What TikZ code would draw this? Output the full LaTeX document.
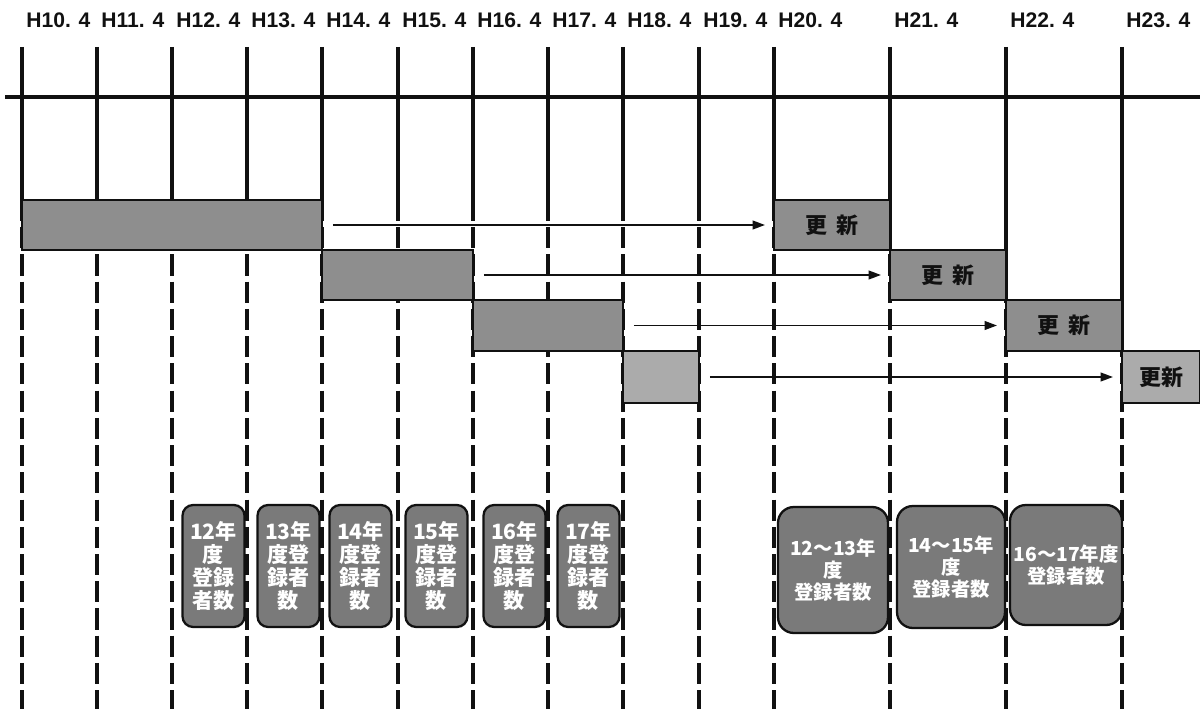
\documentclass[tikz,border=0pt]{standalone}
\usepackage{fontspec}
\setmainfont{Liberation Sans}
\newfontfamily\jpfont{Noto Sans CJK JP}
\usetikzlibrary{arrows.meta}
\definecolor{tinta}{HTML}{111111}
\definecolor{trama}{HTML}{8E8E8E}
\definecolor{tramaclara}{HTML}{ABABAB}
\definecolor{tramaoscura}{HTML}{7A7A7A}
\tikzset{
  fecha/.style={anchor=west, inner sep=0pt, font=\fontsize{12}{14}\selectfont\bfseries, text=tinta},
  barra/.style={rectangle, draw=tinta, line width=1.3pt, fill=trama, inner sep=0pt},
  koshin/.style={barra, font=\jpfont\bfseries\fontsize{12.5}{14}\selectfont, text=tinta},
  toroku/.style={rectangle, rounded corners=6pt, draw=tinta, line width=1.3pt, fill=tramaoscura,
                 text=white, align=center, inner sep=1pt, font=\jpfont\bfseries\fontsize{12}{13}\selectfont},
  eje/.style={line width=2.2pt, color=tinta},
  guia/.style={line width=2pt, color=tinta, dash pattern=on 12pt off 3.5pt},
  flecha/.style={line width=0.9pt, color=tinta, -{Triangle[length=7pt,width=5pt]},
                 shorten <=5.5pt, shorten >=4.5pt}
}

\begin{document}
\begin{tikzpicture}[x=0.02cm, y=-0.02cm]
  \useasboundingbox (0,0) rectangle (1200,709);
  % fechas y lineas del calendario
  \foreach \x/\a [count=\i] in {22/10, 97/11, 172/12, 247/13, 322/14, 398/15, 473/16,
                                548/17, 623/18, 699/19, 774/20, 890/21, 1006/22, 1122/23} {
    \node (h\i) [fecha] at (\x+4,20) {H\a. 4};
    \draw [eje] (\x,47) -- (\x,200);
    \draw [guia] (\x,200) -- (\x,709);
  }
  \draw [eje] (890,200) -- (890,250);
  \draw [eje] (1006,200) -- (1006,300);
  \draw [eje] (1122,200) -- (1122,351);
  \draw [eje, line width=2.6pt] (5,97) -- (1200,97);

  % periodos de registro
  \node (b1) [barra, minimum width=6cm, minimum height=1cm] at (172,225) {};
  \node (b2) [barra, minimum width=3.02cm, minimum height=1cm] at (397.5,275) {};
  \node (b3) [barra, minimum width=3cm, minimum height=1.02cm] at (548,325.5) {};
  \node (b4) [barra, fill=tramaclara, minimum width=1.52cm, minimum height=1.04cm] at (661,377) {};

  % renovaciones
  \node (u1) [koshin, minimum width=2.32cm, minimum height=1cm] at (832,225) {更\hspace{0.45em}新};
  \node (u2) [koshin, minimum width=2.32cm, minimum height=1cm] at (948,275) {更\hspace{0.45em}新};
  \node (u3) [koshin, minimum width=2.32cm, minimum height=1.02cm] at (1064,325.5) {更\hspace{0.45em}新};
  \node (u4) [koshin, fill=tramaclara, minimum width=1.56cm, minimum height=1.04cm] at (1161,377) {更新};

  \draw [flecha] (b1.east) -- (u1.west);
  \draw [flecha] (b2.east) -- (u2.west);
  \draw [flecha] (b3.east) -- (u3.west);
  \draw [flecha] (b4.east) -- (u4.west);

  % registrados por año
  \node (t12) [toroku, minimum width=1.24cm, minimum height=2.44cm] at (213.5,566) {12年\\度\\登録\\者数};
  \node (t13) [toroku, minimum width=1.24cm, minimum height=2.44cm] at (288.5,566) {13年\\度登\\録者\\数};
  \node (t14) [toroku, minimum width=1.24cm, minimum height=2.44cm] at (360.5,566) {14年\\度登\\録者\\数};
  \node (t15) [toroku, minimum width=1.24cm, minimum height=2.44cm] at (436.5,566) {15年\\度登\\録者\\数};
  \node (t16) [toroku, minimum width=1.24cm, minimum height=2.44cm] at (514.5,566) {16年\\度登\\録者\\数};
  \node (t17) [toroku, minimum width=1.24cm, minimum height=2.44cm] at (588.5,566) {17年\\度登\\録者\\数};

  \node (r1) [toroku, rounded corners=9pt, font=\jpfont\bfseries\fontsize{11}{12.5}\selectfont,
              minimum width=2.2cm, minimum height=2.52cm] at (833,570) {12～13年\\度\\登録者数};
  \node (r2) [toroku, rounded corners=9pt, font=\jpfont\bfseries\fontsize{11}{12.5}\selectfont,
              minimum width=2.16cm, minimum height=2.44cm] at (951,567) {14～15年\\度\\登録者数};
  \node (r3) [toroku, rounded corners=9pt, font=\jpfont\bfseries\fontsize{11}{12.5}\selectfont,
              minimum width=2.24cm, minimum height=2.4cm] at (1066,565) {16～17年度\\登録者数};
\end{tikzpicture}
\end{document}
